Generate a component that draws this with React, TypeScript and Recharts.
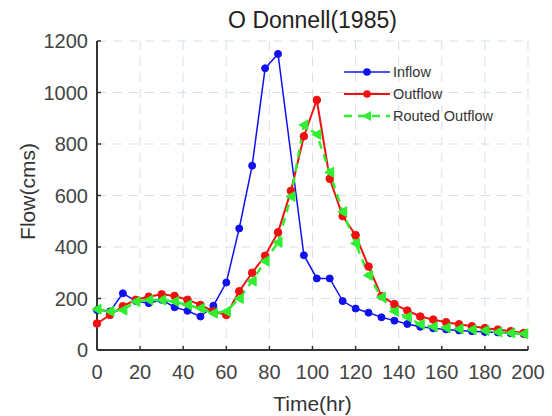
import { LineChart, Line, XAxis, YAxis, CartesianGrid, Legend } from 'recharts'

// hours, 6-hourly
const hours = [
  0, 6, 12, 18, 24, 30, 36, 42, 48, 54, 60, 66, 72, 78, 84, 90, 96,
  102, 108, 114, 120, 126, 132, 138, 144, 150, 156, 162, 168, 174, 180, 186, 192, 198,
]

// inflow has no point at 90 hr in the source plot
const inflow = [
  155, 150, 220, 190, 182, 195, 166, 152, 130, 172, 262, 472, 716, 1094, 1150, null, 368,
  278, 278, 190, 161, 145, 127, 114, 101, 90, 84, 80, 76, 73, 70, 68, 65, 62,
]

const outflow = [
  103, 136, 170, 195, 207, 216, 210, 195, 175, 150, 136, 228, 300, 366, 457, 618, 830,
  971, 665, 520, 446, 324, 209, 178, 153, 130, 118, 108, 100, 92, 85, 79, 73, 66,
]

const routed = [
  158, 150, 155, 188, 194, 194, 188, 175, 162, 143, 150, 200, 268, 345, 418, 596, 874,
  837, 690, 537, 414, 290, 205, 150, 128, 100, 90, 86, 82, 79, 76, 70, 66, 63,
]

const xTicks = [0, 20, 40, 60, 80, 100, 120, 140, 160, 180, 200]
const yTicks = [0, 200, 400, 600, 800, 1000, 1200]

const data = hours.map((t, i) => ({
  t,
  inflow: inflow[i],
  outflow: outflow[i],
  routed: routed[i],
}))

const BLUE = '#1010f0'
const RED = '#f01010'
const GREEN = '#30ee30'
const FONT = 'Arial, "Liberation Sans", Helvetica, sans-serif'

const LeftTriangle = (props: any) => {
  const { cx, cy } = props
  if (cx == null || cy == null) return null
  return (
    <polygon
      points={`${cx - 5},${cy} ${cx + 4},${cy - 5} ${cx + 4},${cy + 5}`}
      fill={GREEN}
      stroke={GREEN}
      strokeWidth={1}
    />
  )
}

const legendItems = [
  { name: 'Inflow', color: BLUE, dash: undefined, width: 1.5, marker: 'circle' },
  { name: 'Outflow', color: RED, dash: undefined, width: 2, marker: 'circle' },
  { name: 'Routed Outflow', color: GREEN, dash: '8 6', width: 2.5, marker: 'tri' },
]

const LegendBox = () => (
  <div style={{ fontFamily: FONT, fontSize: 14.5, color: '#333' }}>
    {legendItems.map((it) => (
      <div key={it.name} style={{ display: 'flex', alignItems: 'center', height: 22 }}>
        <svg width={48} height={14} style={{ marginRight: 2 }}>
          <line x1={1} y1={7} x2={47} y2={7} stroke={it.color} strokeWidth={it.width} strokeDasharray={it.dash} />
          {it.marker === 'circle' ? (
            <circle cx={24} cy={7} r={3.8} fill={it.color} />
          ) : (
            <polygon points="19,7 28,2 28,12" fill={it.color} />
          )}
        </svg>
        <span>{it.name}</span>
      </div>
    ))}
  </div>
)

const FlowLabel = (props: any) => {
  const vb = props.viewBox
  const x = vb.x + 27
  const y = vb.y + vb.height / 2 - 4
  return (
    <text
      x={x}
      y={y}
      transform={`rotate(-90 ${x} ${y})`}
      textAnchor="middle"
      dominantBaseline="central"
      fontFamily={FONT}
      fontSize={21}
      fill="#333"
    >
      Flow(cms)
    </text>
  )
}

const TimeLabel = (props: any) => {
  const vb = props.viewBox
  return (
    <text
      x={vb.x + vb.width / 2}
      y={411}
      textAnchor="middle"
      fontFamily={FONT}
      fontSize={21}
      fill="#333"
    >
      Time(hr)
    </text>
  )
}

export default function App() {
  return (
    <div style={{ position: 'relative', width: 552, height: 416, background: '#fff' }}>
      <style>{'body{margin:0}'}</style>
      <div
        style={{
          position: 'absolute',
          top: 7,
          left: 97,
          width: 431,
          textAlign: 'center',
          fontFamily: FONT,
          fontSize: 23,
          color: '#222',
          zIndex: 1,
        }}
      >
        O Donnell(1985)
      </div>
      <LineChart
        width={552}
        height={416}
        data={data}
        margin={{ top: 41, right: 24, bottom: 0, left: 0 }}
      >
        <CartesianGrid stroke="#d6dfea" strokeDasharray="9 7" strokeWidth={1} />
        <XAxis
          dataKey="t"
          type="number"
          domain={[0, 200]}
          ticks={xTicks}
          height={66}
          tickSize={-4}
          tickMargin={19}
          axisLine={{ stroke: '#333', strokeWidth: 2 }}
          tickLine={{ stroke: '#333', strokeWidth: 1.5 }}
          tick={{ fill: '#444', fontSize: 20, fontFamily: FONT }}
          interval={0}
          label={<TimeLabel />}
        />
        <YAxis
          type="number"
          domain={[0, 1200]}
          ticks={yTicks}
          width={97}
          tickSize={-4}
          tickMargin={13}
          axisLine={{ stroke: '#333', strokeWidth: 2 }}
          tickLine={{ stroke: '#333', strokeWidth: 1.5 }}
          tick={{ fill: '#444', fontSize: 20, fontFamily: FONT }}
          interval={0}
          label={<FlowLabel />}
        />
        <Legend
          layout="horizontal"
          verticalAlign="middle"
          align="center"
          content={<LegendBox />}
          wrapperStyle={{ position: 'absolute', top: 61, left: 343, width: 170 }}
        />
        <Line
          dataKey="inflow"
          name="Inflow"
          stroke={BLUE}
          strokeWidth={1.5}
          connectNulls
          dot={{ r: 3.5, fill: BLUE, stroke: BLUE, strokeWidth: 1 }}
          activeDot={false}
          isAnimationActive={false}
        />
        <Line
          dataKey="outflow"
          name="Outflow"
          stroke={RED}
          strokeWidth={2}
          dot={{ r: 3.8, fill: RED, stroke: RED, strokeWidth: 1 }}
          activeDot={false}
          isAnimationActive={false}
        />
        <Line
          dataKey="routed"
          name="Routed Outflow"
          stroke={GREEN}
          strokeWidth={2.5}
          strokeDasharray="8 6"
          dot={<LeftTriangle />}
          activeDot={false}
          isAnimationActive={false}
        />
      </LineChart>
    </div>
  )
}
